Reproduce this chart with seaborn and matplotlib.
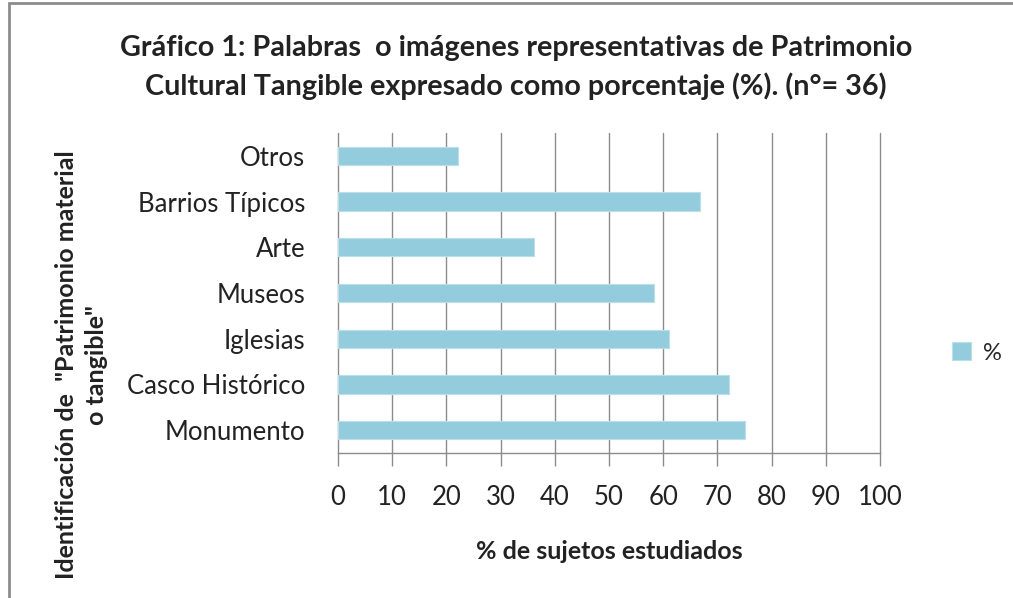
import matplotlib
matplotlib.use('Agg')
import matplotlib.pyplot as plt
import seaborn as sns
import pandas as pd
from matplotlib.patches import Rectangle

# data (n = 36, shares)
categories = ["Otros", "Barrios Típicos", "Arte", "Museos", "Iglesias",
              "Casco Histórico", "Monumento"]
percent = [22.2, 66.7, 36.1, 58.3, 61.1, 72.2, 75.0]
x_ticks = [0, 10, 20, 30, 40, 50, 60, 70, 80, 90, 100]

df = pd.DataFrame({"categoria": categories, "pct": percent})

sns.set_style("white")
plt.rcParams['font.family'] = ['Lato', 'DejaVu Sans']

fig = plt.figure(figsize=(10.13, 5.98), dpi=100)
ax = fig.add_axes([338 / 1013, 1 - 453 / 598, 542 / 1013, 320 / 598])

sns.barplot(data=df, x="pct", y="categoria", orient="h", color="#93CDDD",
            width=0.4, edgecolor="#b8dfea", linewidth=0.8, saturation=1,
            label="%", ax=ax, zorder=3)

ax.set_xlim(0, 100)
ax.set_ylim(6.5, -0.5)
ax.set_xticks(x_ticks)
ax.xaxis.grid(True, color="#8c8c8c", linewidth=1.0, zorder=0)
for gl in ax.get_xgridlines():
    gl.set_clip_on(False)
ax.yaxis.grid(False)
for s in ["top", "right", "left"]:
    ax.spines[s].set_visible(False)
ax.spines["bottom"].set_color("#8c8c8c")
ax.spines["bottom"].set_linewidth(1.0)
ax.tick_params(axis="x", bottom=True, length=9, width=1.0, color="#8c8c8c",
               labelsize=18.5, labelcolor="#222222", pad=14)
ax.tick_params(axis="y", left=False, labelsize=18.5, labelcolor="#222222", pad=20)

ax.set_xlabel("% de sujetos estudiados", fontsize=18, fontweight="bold",
              color="#222222")
ax.xaxis.set_label_coords(0.5, -(540 - 453) / 320)
ax.set_ylabel("Identificación de  \"Patrimonio material\no tangible\"",
              fontsize=18, fontweight="bold", color="#222222", linespacing=1.35)
ax.yaxis.set_label_coords(-230 / 542, (453 - 365) / 320)

fig.suptitle("Gráfico 1: Palabras  o imágenes representativas de Patrimonio\n"
             "Cultural Tangible expresado como porcentaje (%). (n°= 36)",
             x=516 / 1013, y=1 - 35 / 598, fontsize=20.7, fontweight="bold",
             color="#222222", linespacing=1.5, va="top")

ax.legend(loc="center left", bbox_to_anchor=(952 / 1013, 1 - 353 / 598),
          bbox_transform=fig.transFigure, frameon=False, fontsize=17,
          borderpad=0, borderaxespad=0,
          handlelength=0.8, handleheight=0.8, handletextpad=0.5)

# outer chart border
fig.patches.append(Rectangle((9 / 1013, -0.05), 1.1, 0.05 + 1 - 3 / 598,
                             transform=fig.transFigure, fill=False,
                             edgecolor="#8c8c8c", linewidth=2.0))

fig.savefig("out.png", dpi=100)
